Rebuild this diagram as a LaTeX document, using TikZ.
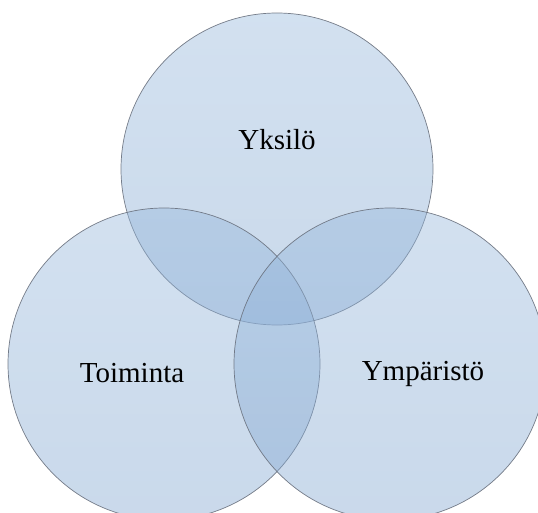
\documentclass[tikz,border=0pt]{standalone}
\usepackage{fontspec}
\setmainfont{Liberation Serif}
\definecolor{vennbase}{RGB}{137,173,212}
\definecolor{venntop}{RGB}{150,184,220}
\definecolor{vennbot}{RGB}{128,165,208}
\definecolor{vennedge}{RGB}{105,112,125}
\tikzset{
  venn/.style={circle, minimum size=312pt, inner sep=0pt, top color=venntop, bottom color=vennbot, fill opacity=0.42, draw=vennedge, draw opacity=0.9, line width=0.7pt},
  vlabel/.style={font=\fontsize{29}{33}\selectfont, text=black, inner sep=0pt}
}
\begin{document}
\begin{tikzpicture}[x=1pt,y=-1pt]
\useasboundingbox (0,0) rectangle (538,513);
\clip (0,0) rectangle (538,513);
\fill[white] (0,0) rectangle (538,513);
\node[venn] (top) at (277,169) {};
\node[venn] (left) at (164,364) {};
\node[venn] (right) at (390,364) {};
\node[vlabel] (t1) at (277,140) {Yksilö};
\node[vlabel] (t2) at (132,373) {Toiminta};
\node[vlabel] (t3) at (423,374) {Ympäristö};
\end{tikzpicture}
\end{document}
